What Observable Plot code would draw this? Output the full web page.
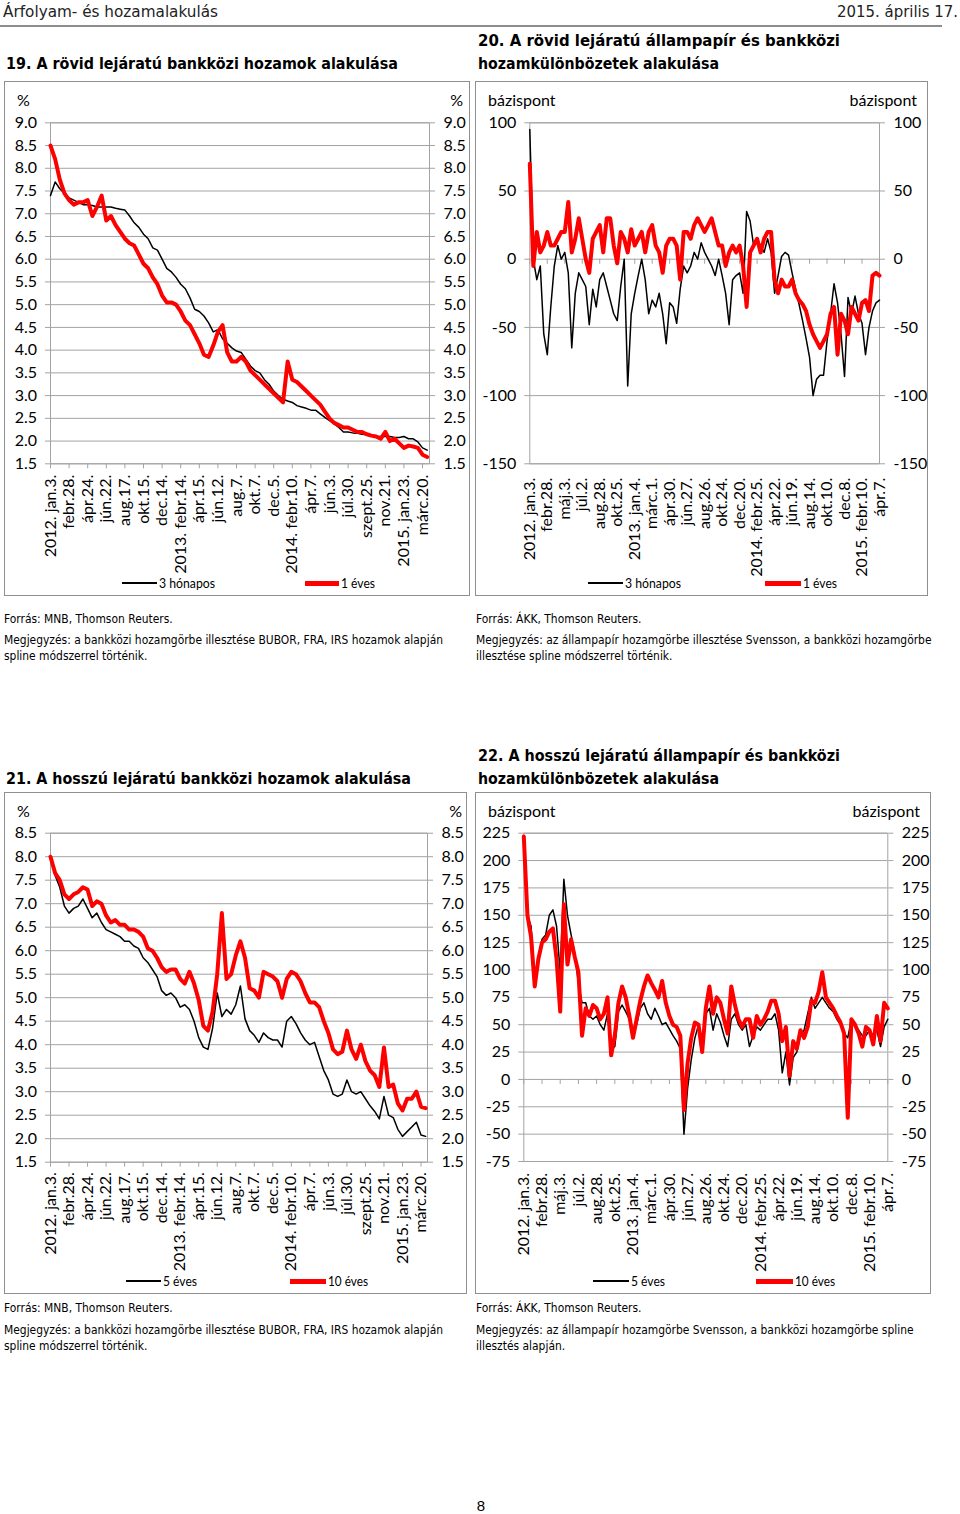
<!DOCTYPE html>
<html><head><meta charset="utf-8">
<script src="https://cdn.jsdelivr.net/npm/d3@7"></script>
<script src="https://cdn.jsdelivr.net/npm/@observablehq/plot@0.6"></script>
<style>
body{margin:0;background:#fff;}
#page{position:relative;width:960px;height:1514px;overflow:hidden;background:#fff;}
.t{position:absolute;white-space:nowrap;line-height:1;transform-origin:0 50%;}
.box{position:absolute;border:1px solid #8f8f8f;box-sizing:border-box;}
.ln{position:absolute;}
</style></head><body><div id="page"></div>
<script>
// ---------- DATA ----------
const xLabels19 = ["2012. jan.3.","febr.28.","ápr.24.","jún.22.","aug.17.","okt.15.","dec.14.","2013. febr.14.","ápr.15.","jún.12.","aug.7.","okt.7.","dec.5.","2014. febr.10.","ápr.7.","jún.3.","júl.30.","szept.25.","nov.21.","2015. jan.23.","márc.20."];
const xLabels20 = ["2012. jan.3.","febr.28.","máj.3.","júl.2.","aug.28.","okt.25.","2013. jan.4.","márc.1.","ápr.30.","jún.27.","aug.26.","okt.24.","dec.20.","2014. febr.25.","ápr.22.","jún.19.","aug.14.","okt.10.","dec.8.","2015. febr.10.","ápr.7."];
const yTicks19 = [1.5,2,2.5,3,3.5,4,4.5,5,5.5,6,6.5,7,7.5,8,8.5,9];
const yTicks21 = [1.5,2,2.5,3,3.5,4,4.5,5,5.5,6,6.5,7,7.5,8,8.5];
const yTicks20 = [-150,-100,-50,0,50,100];
const yTicks22 = [-75,-50,-25,0,25,50,75,100,125,150,175,200,225];

// Chart 19 (every 10th business day), %
const m3_19 = [7.4,7.7,7.55,7.45,7.35,7.3,7.25,7.2,7.2,7.18, 7.15,7.15,7.15,7.15,7.12,7.1,7.08,6.95,6.8,6.7, 6.55,6.45,6.25,6.2,6.0,5.8,5.72,5.6,5.45,5.35, 5.15,4.9,4.85,4.75,4.6,4.4,4.45,4.25,4.15,4.05, 3.98,3.95,3.8,3.65,3.55,3.5,3.35,3.25,3.1,3.0, 2.92,2.88,2.85,2.78,2.75,2.72,2.68,2.68,2.6,2.52, 2.45,2.38,2.3,2.2,2.2,2.18,2.17,2.15,2.14,2.12, 2.1,2.1,2.1,2.1,2.08,2.08,2.1,2.05,2.05,1.98, 1.85,1.8];
const y1_19 = [8.5,8.2,7.75,7.45,7.3,7.2,7.25,7.25,7.3,6.95, 7.15,7.4,6.85,6.95,6.75,6.6,6.45,6.35,6.3,6.1, 5.9,5.8,5.6,5.45,5.2,5.05,5.05,5.0,4.85,4.65, 4.55,4.35,4.15,3.9,3.85,4.1,4.4,4.55,3.95,3.75, 3.75,3.85,3.75,3.55,3.45,3.35,3.25,3.15,3.05,2.95, 2.85,3.75,3.35,3.3,3.2,3.1,3.0,2.9,2.8,2.65, 2.5,2.4,2.35,2.3,2.3,2.25,2.2,2.2,2.15,2.12, 2.1,2.05,2.2,2.0,2.05,1.95,1.85,1.9,1.88,1.85, 1.7,1.65];

// Chart 20 (every 8th business day), basis points
const m3_20 = [95,0,-15,-5,-55,-70,-35,-5,10,0, 5,-10,-65,-25,-10,-15,-20,-48,-22,-35, -15,-10,-20,-30,-40,-45,-20,0,-93,-40, -25,-12,0,-15,-40,-30,-35,-25,-40,-62, -32,-35,-47,-22,-5,-10,-5,5,0,12, 5,0,-5,-12,0,-12,-25,-48,-15,-12, -10,-25,35,28,10,15,10,5,15,5, -25,-12,2,5,3,-10,-22,-33,-45,-58, -72,-100,-88,-85,-85,-60,-40,-18,-32,-55, -86,-28,-40,-27,-40,-47,-70,-50,-38,-32, -30];
const y1_20 = [70,-5,20,5,10,20,10,10,15,20, 20,42,5,15,30,15,0,-10,15,20, 25,5,30,30,10,-3,20,15,5,22, 10,15,20,5,20,25,10,5,-10,10, 15,15,10,-15,20,20,15,25,30,25, 20,25,30,20,10,10,-5,5,10,5, 10,-5,-35,5,10,15,5,15,20,20, -15,-25,-15,-20,-20,-15,-25,-30,-33,-38, -48,-55,-60,-65,-60,-55,-40,-35,-70,-40, -45,-55,-35,-40,-45,-32,-30,-38,-12,-10, -12];

// Chart 21 (every 10th business day), %
const y5_21 = [8.0,7.6,7.35,6.95,6.8,6.9,6.95,7.1,6.9,6.7, 6.8,6.6,6.45,6.4,6.35,6.3,6.2,6.2,6.1,6.05, 5.85,5.75,5.6,5.45,5.15,5.05,5.1,5.0,4.8,4.85, 4.75,4.5,4.15,3.95,3.9,4.35,5.1,4.6,4.75,4.65, 4.85,5.25,4.55,4.3,4.2,4.05,4.25,4.15,4.1,4.1, 3.95,4.5,4.6,4.45,4.25,4.1,4.0,4.05,3.75,3.45, 3.25,2.95,2.9,2.95,3.25,3.0,2.95,3.0,2.85,2.7, 2.58,2.42,2.9,2.5,2.45,2.2,2.05,2.15,2.25,2.35, 2.08,2.05];
const y10_21 = [8.0,7.65,7.5,7.2,7.1,7.2,7.25,7.35,7.3,6.95, 7.05,7.0,6.75,6.6,6.65,6.55,6.55,6.45,6.45,6.4, 6.3,6.05,6.0,5.85,5.65,5.55,5.6,5.6,5.4,5.3, 5.55,5.3,4.95,4.4,4.3,4.7,5.5,6.8,5.4,5.5, 5.9,6.2,5.85,5.2,5.15,5.0,5.55,5.5,5.45,5.35, 5.0,5.4,5.55,5.5,5.35,5.1,4.9,4.9,4.8,4.5, 4.25,3.9,3.8,3.85,4.3,3.9,3.7,4.0,3.65,3.45, 3.35,3.1,3.94,3.1,3.15,2.75,2.6,2.85,2.85,3.0, 2.68,2.65];

// Chart 22 (every 8th business day), basis points
const y5_22 = [220,150,140,92,112,128,132,150,155,140, 98,183,150,132,115,88,70,70,58,55, 58,50,45,60,28,30,62,68,62,55, 40,50,65,70,60,55,65,58,50,52, 46,40,35,28,-50,-8,18,38,50,35, 60,65,45,60,52,40,30,55,60,50, 45,50,30,40,48,45,50,55,55,60, 45,6,25,-5,20,25,40,45,60,75, 65,70,75,70,65,62,55,50,42,38, 55,50,45,40,40,45,40,45,30,48, 55];
const y10_22 = [222,150,130,85,110,125,128,135,138,110, 62,160,105,128,112,98,40,65,58,68, 65,55,60,75,22,40,70,85,75,58, 38,55,72,85,95,88,82,75,90,70, 58,50,48,40,-28,15,38,52,50,25, 65,85,60,75,70,55,42,85,68,55, 48,55,55,38,58,50,55,62,72,72, 60,35,48,3,35,28,45,38,48,72, 70,80,98,75,70,65,58,52,42,-35, 55,50,42,30,48,45,32,58,35,70, 65];

// ---------- LAYOUT HELPERS ----------
const page = document.getElementById("page");
function txt(s, x, y, o = {}) {
  const size = o.size || 12;
  const el = document.createElement("div");
  el.className = "t";
  el.textContent = s;
  el.style.fontFamily = o.family || "'DejaVu Sans'";
  el.style.fontSize = size + "px";
  el.style.fontWeight = o.weight || "normal";
  el.style.color = o.color || "#000";
  el.style.top = (y - size * (o.vc || 0.5)) + "px";
  el.style.left = "0px";
  page.appendChild(el);
  const w = el.getBoundingClientRect().width;
  let k = o.k || 1;
  if (o.w) k = o.w / w;
  const fw = w * k;
  let left = x;
  if (o.align === "right") left = x - fw;
  else if (o.align === "center") left = x - fw / 2;
  el.style.left = left + "px";
  el.style.transform = `scaleX(${k})`;
  return k;
}
function box(l, t, r, b) {
  const d = document.createElement("div");
  d.className = "box";
  Object.assign(d.style, {left: l + "px", top: t + "px", width: (r - l) + "px", height: (b - t) + "px"});
  page.appendChild(d);
}
function line(l, t, w, h, c) {
  const d = document.createElement("div");
  d.className = "ln";
  Object.assign(d.style, {left: l + "px", top: t + "px", width: w + "px", height: h + "px", background: c});
  page.appendChild(d);
}

// ---------- HEADER ----------
txt("Árfolyam- és hozamalakulás", 3, 12, {size: 16.5, w: 215, color: "#222"});
txt("2015. április 17.", 958, 12, {size: 16.5, w: 121, align: "right", color: "#222"});
line(0, 25, 942, 2, "#8c8c8c");

// ---------- TITLES ----------
txt("19. A rövid lejáratú bankközi hozamok alakulása", 6, 64, {size: 16, weight: "bold", w: 392});
txt("20. A rövid lejáratú állampapír és bankközi", 478, 41, {size: 16, weight: "bold", w: 362});
txt("hozamkülönbözetek alakulása", 478, 64, {size: 16, weight: "bold", w: 241});
txt("21. A hosszú lejáratú bankközi hozamok alakulása", 6, 779, {size: 16, weight: "bold", w: 405});
txt("22. A hosszú lejáratú állampapír és bankközi", 478, 756, {size: 16, weight: "bold", w: 362});
txt("hozamkülönbözetek alakulása", 478, 779, {size: 16, weight: "bold", w: 241});

// ---------- BOXES ----------
box(4, 81, 470, 596);
box(475, 81, 928, 596);
box(4, 792, 467, 1294);
box(475, 792, 931, 1294);

// ---------- CHARTS ----------
function drawChart(c) {
  const labelMap = new Map(c.xLabels.map((l, i) => [i * 40, l]));
  const xTicks = c.xLabels.map((l, i) => i * 40);
  const blackData = c.black.map((v, i) => ({x: i * c.step, y: v}));
  const redData = c.red.map((v, i) => ({x: i * c.step, y: v}));
  const grey = "#a3a3a3";
  const marks = [
    Plot.gridY(c.yTicks, {stroke: grey, strokeOpacity: 1}),
    Plot.frame({stroke: grey}),
    Plot.axisY(c.yTicks, {anchor: "left", tickSize: 5, tickPadding: 8.5, tickFormat: c.yFmt, stroke: grey, fill: "#000", fontSize: 16, label: null}),
    Plot.axisY(c.yTicks, {anchor: "right", tickSize: 5, tickPadding: 9, tickFormat: c.yFmt, stroke: grey, fill: "#000", fontSize: 16, label: null}),
    Plot.axisX(xTicks, {anchor: "bottom", tickSize: c.zeroTicks ? 0 : 5, tickPadding: c.xPad, tickRotate: -90, tickFormat: d => labelMap.get(d), stroke: grey, fill: "#000", fontSize: 16, label: null})
  ];
  if (c.zeroTicks) marks.push(Plot.ruleX(xTicks, {x: d => d, y1: 0, y2: -c.zeroTickLen, stroke: grey}));
  marks.push(Plot.line(blackData, {x: "x", y: "y", stroke: "#000", strokeWidth: 1.5}));
  marks.push(Plot.line(redData, {x: "x", y: "y", stroke: "#ff0000", strokeWidth: 4}));
  const svg = Plot.plot({
    width: c.sR - c.sL, height: c.sB - c.sT,
    marginLeft: c.pL - c.sL, marginRight: c.sR - c.pR, marginTop: c.pT - c.sT, marginBottom: c.sB - c.pB,
    x: {domain: c.xDomain}, y: {domain: c.yDomain},
    style: {fontFamily: "Lato", fontSize: "16px", background: "transparent", overflow: "visible", color: "#000"},
    marks
  });
  svg.style.position = "absolute";
  svg.style.left = c.sL + "px";
  svg.style.top = c.sT + "px";
  page.appendChild(svg);
}
const f1 = d3.format(".1f");
const fi = d => String(d);

drawChart({sL: 5, sT: 82, sR: 469, sB: 575, pL: 50, pT: 122.3, pR: 429, pB: 463.3,
  xDomain: [0, 815], yDomain: [1.5, 9], yTicks: yTicks19, yFmt: f1, xLabels: xLabels19, xPad: 6,
  step: 10, black: m3_19, red: y1_19, zeroTicks: false});
drawChart({sL: 476, sT: 82, sR: 927, sB: 575, pL: 529.3, pT: 122.3, pR: 879, pB: 463.3,
  xDomain: [0, 800], yDomain: [-150, 100], yTicks: yTicks20, yFmt: fi, xLabels: xLabels20, xPad: 14,
  step: 8, black: m3_20, red: y1_20, zeroTicks: true, zeroTickLen: 3.7});
drawChart({sL: 5, sT: 793, sR: 466, sB: 1275, pL: 50, pT: 832.7, pR: 427, pB: 1161.7,
  xDomain: [0, 814], yDomain: [1.5, 8.5], yTicks: yTicks21, yFmt: f1, xLabels: xLabels19, xPad: 5,
  step: 10, black: y5_21, red: y10_21, zeroTicks: false});
drawChart({sL: 476, sT: 793, sR: 930, sB: 1275, pL: 523.3, pT: 832.7, pR: 887.3, pB: 1161,
  xDomain: [0, 800], yDomain: [-75, 225], yTicks: yTicks22, yFmt: fi, xLabels: xLabels20, xPad: 11.5,
  step: 8, black: y5_22, red: y10_22, zeroTicks: true, zeroTickLen: 4.6});

// ---------- UNIT LABELS ----------
txt("%", 17, 100, {size: 16, family: "Lato"});
txt("%", 463, 100, {size: 16, family: "Lato", align: "right"});
txt("bázispont", 488, 100, {size: 16, family: "Lato"});
txt("bázispont", 917, 100, {size: 16, family: "Lato", align: "right"});
txt("%", 17, 811, {size: 16, family: "Lato"});
txt("%", 462, 811, {size: 16, family: "Lato", align: "right"});
txt("bázispont", 488, 811, {size: 16, family: "Lato"});
txt("bázispont", 920, 811, {size: 16, family: "Lato", align: "right"});

// ---------- LEGENDS ----------
function legend(y, bx1, bx2, bl, rx1, rx2, rl) {
  line(bx1, y - 1, bx2 - bx1, 2, "#000");
  txt(bl[0], bx2 + 2, y, {size: 13, family: "Lato", w: bl[1]});
  line(rx1, y - 2.5, rx2 - rx1, 5, "#ff0000");
  txt(rl[0], rx2 + 2, y, {size: 13, family: "Lato", w: rl[1]});
}
legend(583, 122, 157, ["3 hónapos", 56], 305, 339, ["1 éves", 34]);
legend(583, 588, 623, ["3 hónapos", 56], 765, 801, ["1 éves", 34]);
legend(1281, 126, 161, ["5 éves", 34], 290, 326, ["10 éves", 40]);
legend(1281, 593, 629, ["5 éves", 34], 756, 793, ["10 éves", 40]);

// ---------- FOOTNOTES ----------
const kf = txt("Megjegyzés: a bankközi hozamgörbe illesztése BUBOR, FRA, IRS hozamok alapján", 4, 641, {size: 11.5, w: 439});
txt("Forrás: MNB, Thomson Reuters.", 4, 620, {size: 11.5, k: kf});
txt("spline módszerrel történik.", 4, 657, {size: 11.5, k: kf});
txt("Forrás: ÁKK, Thomson Reuters.", 476, 620, {size: 11.5, k: kf});
txt("Megjegyzés: az állampapír hozamgörbe illesztése Svensson, a bankközi hozamgörbe", 476, 641, {size: 11.5, k: kf});
txt("illesztése spline módszerrel történik.", 476, 657, {size: 11.5, k: kf});

txt("Forrás: MNB, Thomson Reuters.", 4, 1309, {size: 11.5, k: kf});
txt("Megjegyzés: a bankközi hozamgörbe illesztése BUBOR, FRA, IRS hozamok alapján", 4, 1331, {size: 11.5, k: kf});
txt("spline módszerrel történik.", 4, 1347, {size: 11.5, k: kf});
txt("Forrás: ÁKK, Thomson Reuters.", 476, 1309, {size: 11.5, k: kf});
txt("Megjegyzés: az állampapír hozamgörbe Svensson, a bankközi hozamgörbe spline", 476, 1331, {size: 11.5, k: kf});
txt("illesztés alapján.", 476, 1347, {size: 11.5, k: kf});

// ---------- PAGE NUMBER ----------
txt("8", 481, 1505, {size: 15, family: "'Liberation Sans'", align: "center"});
</script></body></html>
